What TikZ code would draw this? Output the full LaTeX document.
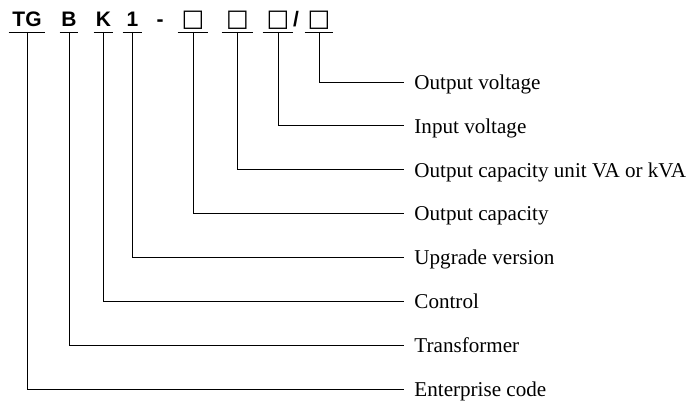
\documentclass[tikz,border=0pt]{standalone}
\usepackage{fontspec}
\setmainfont{Liberation Serif}
\setsansfont{Liberation Sans}
\newfontfamily\boxfont{DejaVu Sans}

\begin{document}
\begin{tikzpicture}[x=1pt,y=-1pt,line width=0.9pt,
  code/.style={anchor=south,inner sep=0pt,text height=16pt,text depth=5pt,font=\sffamily\bfseries\fontsize{21}{24}\selectfont},
  sq/.style={code,font=\boxfont\fontsize{24}{28}\selectfont},
  lbl/.style={anchor=west,inner xsep=10pt,inner ysep=0pt,text height=14.5pt,text depth=0pt,font=\fontsize{21.1}{26}\selectfont},
  elbow/.style={to path={|- (\tikztotarget)}}]
  \useasboundingbox (0,0) rectangle (692,406);
  % model code
  \node[code,minimum width=36pt] (tg) at (27,32) {TG};
  \node[code,minimum width=18pt] (b) at (69,32) {B};
  \node[code,minimum width=19pt] (k) at (103.5,32) {K};
  \node[code,minimum width=19pt] (one) at (132.5,32) {1};
  \node[code] (dash) at (160,32) {-};
  \node[sq,minimum width=30pt] (sq1) at (193,32) {□};
  \node[sq,minimum width=31pt] (sq2) at (237.5,32) {□};
  \node[sq,minimum width=30pt] (sq3) at (278,32) {□};
  \node[code] (slash) at (296,32) {/};
  \node[sq,minimum width=28pt] (sq4) at (319,32) {□};
  % meanings
  \node[lbl] (ov) at (404,82) {Output voltage};
  \node[lbl] (iv) at (404,125.9) {Input voltage};
  \node[lbl] (cu) at (404,169.8) {Output capacity unit VA or kVA};
  \node[lbl] (oc) at (404,213.7) {Output capacity};
  \node[lbl] (uv) at (404,257.6) {Upgrade version};
  \node[lbl] (ct) at (404,301.5) {Control};
  \node[lbl] (tf) at (404,345.4) {Transformer};
  \node[lbl] (ec) at (404,389.3) {Enterprise code};
  % underlines
  \foreach \n in {tg,b,k,one,sq1,sq2,sq3,sq4}
    \draw (\n.south west) -- (\n.south east);
  \path
    (tg.south) edge[elbow] (ec.west)
    (b.south) edge[elbow] (tf.west)
    (k.south) edge[elbow] (ct.west)
    (one.south) edge[elbow] (uv.west)
    (sq1.south) edge[elbow] (oc.west)
    (sq2.south) edge[elbow] (cu.west)
    (sq3.south) edge[elbow] (iv.west)
    (sq4.south) edge[elbow] (ov.west);
\end{tikzpicture}
\end{document}
